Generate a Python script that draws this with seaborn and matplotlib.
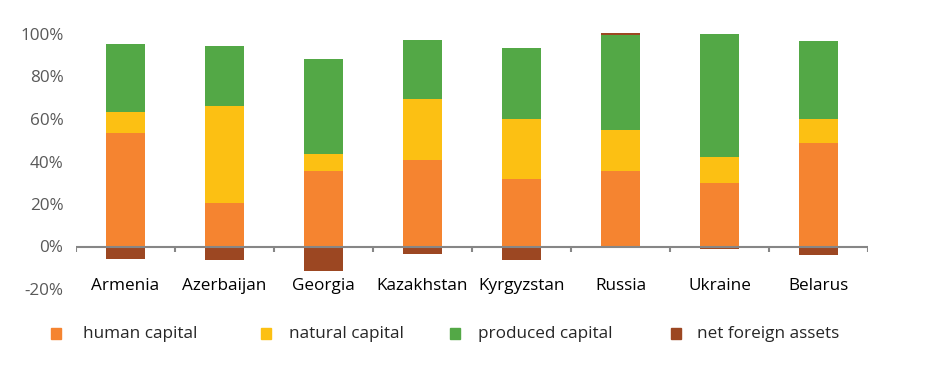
import matplotlib
matplotlib.use("Agg")
import matplotlib.pyplot as plt
import seaborn as sns
import numpy as np
import pandas as pd
from matplotlib.patches import Rectangle

countries = ["Armenia", "Azerbaijan", "Georgia", "Kazakhstan", "Kyrgyzstan", "Russia", "Ukraine", "Belarus"]
human = [53.4, 20.5, 35.5, 40.7, 31.8, 35.5, 29.9, 48.7]
natural = [9.9, 45.6, 8.0, 28.7, 28.2, 19.3, 12.2, 11.3]
produced = [32.0, 28.3, 44.7, 27.8, 33.4, 44.7, 57.9, 36.7]
nfa = [-5.9, -6.4, -11.5, -3.5, -6.4, 0.9, -1.2, -4.0]
series_names = ["human capital", "natural capital", "produced capital", "net foreign assets"]
yticks = [-20, 0, 20, 40, 60, 80, 100]

colors = ["#F58430", "#FCC013", "#53A846", "#9C4722"]

sns.set_theme(style="white")
plt.rcParams["font.family"] = ["Open Sans", "DejaVu Sans"]

W, H = 948, 385
fig = plt.figure(figsize=(W / 100, H / 100), dpi=100)
ax = fig.add_axes([76 / W, (H - 289) / H, (868 - 76) / W, (289 - 34) / H])

df = pd.DataFrame({"country": countries, "human": human, "natural": natural,
                   "produced": produced, "nfa": nfa})
b1 = np.zeros(len(countries))
b2 = np.array(human)
b3 = b2 + np.array(natural)
top = b3 + np.array(produced)
nfa_arr = np.array(nfa)
b4 = np.where(nfa_arr >= 0, top, 0.0)

for col, bottom, c in [("human", b1, colors[0]), ("natural", b2, colors[1]),
                       ("produced", b3, colors[2]), ("nfa", b4, colors[3])]:
    sns.barplot(data=df, x="country", y=col, bottom=bottom, color=c, width=0.404,
                saturation=1, ax=ax, linewidth=0, clip_on=False)

ax.set_xlim(-0.5, len(countries) - 0.5)
ax.set_ylim(-20, 100)
for s in ax.spines.values():
    s.set_visible(False)
ax.set_xlabel("")
ax.set_ylabel("")
ax.set_xticks([])
ax.set_yticks(yticks)
ax.set_yticklabels([f"{v}%" for v in yticks], color="#595959", fontsize=12.3)
ax.tick_params(axis="y", length=0, pad=9)

ax.axhline(0, color="#868686", lw=1.5, zorder=5)
ax.vlines(np.arange(len(countries) + 1) - 0.5, -2.6, 0, color="#868686", lw=1.5, zorder=5)

for i, c in enumerate(countries):
    ax.text(i, -18.8, c, ha="center", va="center", fontsize=12.3, color="#000000")

# legend
legend_x = [51, 261, 450, 671]
text_x = [83, 289, 478, 697]
for lx, tx, name, c in zip(legend_x, text_x, series_names, colors):
    fig.patches.append(Rectangle((lx / W, (H - 339) / H), 10 / W, 11 / H,
                                 transform=fig.transFigure, color=c))
    fig.text(tx / W, (H - 334) / H, name, ha="left", va="center", fontsize=12.3, color="#262626")

fig.savefig("out.png", dpi=100)
